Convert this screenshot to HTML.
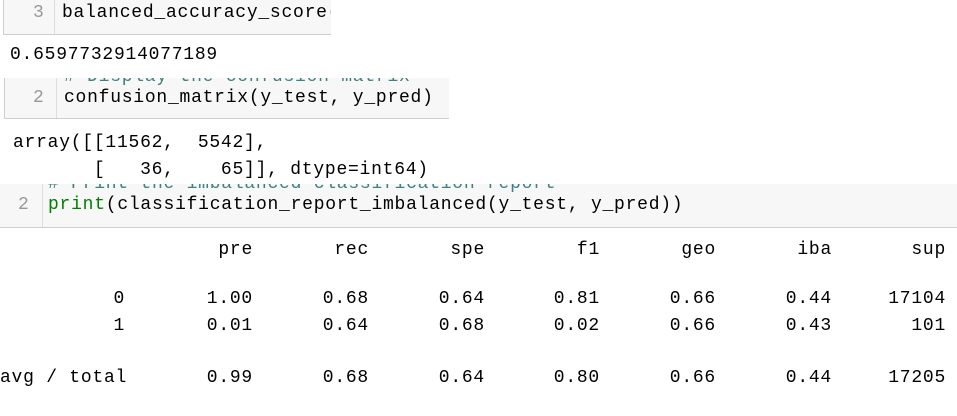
<!DOCTYPE html>
<html><head><meta charset="utf-8"><style>
body{margin:0;width:957px;height:416px;background:#fff;position:relative;overflow:hidden;font-family:"Liberation Mono",monospace;font-size:18px;letter-spacing:0.75px;color:#000}
.a{position:absolute;white-space:pre;line-height:20px}
.cell{position:absolute;background:#f7f7f7;border:1px solid #cfcfcf;border-top:none;overflow:hidden}
.gut{position:absolute;top:0;bottom:0;border-right:1px solid #dcdcdc}
.ln{color:#999}
.g{color:#008000}.c{color:#408080}
.r{position:absolute;text-align:right;width:100px;white-space:pre;line-height:20px}
</style></head><body>
<div class="cell" style="left:3px;top:0;width:327px;height:34px;border-right:none">
<div class="gut" style="left:0;width:50px"></div>
<span class="a ln" style="left:29px;top:3px">3</span>
<span class="a" style="left:58px;top:3px">balanced_accuracy_score(</span>
</div>
<div class="a" style="left:10px;top:45px">0.6597732914077189</div>

<div class="cell" style="left:4px;top:78px;width:444px;height:40px;border-right:none">
<div class="gut" style="left:0;width:51px"></div>
<span class="a c" style="left:59px;top:-11px"># Display the confusion matrix</span>
<span class="a ln" style="left:28px;top:10px">2</span>
<span class="a" style="left:59px;top:10px">confusion_matrix(y_test, y_pred)</span>
</div>
<div class="a" style="left:13px;top:130px;line-height:27px">array([[11562,  5542],
       [   36,    65]], dtype=int64)</div>

<div class="cell" style="left:0;top:184px;width:957px;height:43px;border-left:none;border-right:none">
<div class="gut" style="left:0;width:42px"></div>
<span class="a c" style="left:48px;top:-10px"># Print the imbalanced classification report</span>
<span class="a ln" style="left:18px;top:11px">2</span>
<span class="a" style="left:48px;top:11px"><span class="g">print</span>(classification_report_imbalanced(y_test, y_pred))</span>
</div>

<div>
<div class="r" style="left:153px;top:240px">pre</div><div class="r" style="left:269px;top:240px">rec</div><div class="r" style="left:385px;top:240px">spe</div><div class="r" style="left:500px;top:240px">f1</div><div class="r" style="left:616px;top:240px">geo</div><div class="r" style="left:732px;top:240px">iba</div><div class="r" style="left:846px;top:240px">sup</div>

<div class="r" style="left:25px;top:289px">0</div>
<div class="r" style="left:153px;top:289px">1.00</div><div class="r" style="left:269px;top:289px">0.68</div><div class="r" style="left:385px;top:289px">0.64</div><div class="r" style="left:500px;top:289px">0.81</div><div class="r" style="left:616px;top:289px">0.66</div><div class="r" style="left:732px;top:289px">0.44</div><div class="r" style="left:846px;top:289px">17104</div>

<div class="r" style="left:25px;top:316px">1</div>
<div class="r" style="left:153px;top:316px">0.01</div><div class="r" style="left:269px;top:316px">0.64</div><div class="r" style="left:385px;top:316px">0.68</div><div class="r" style="left:500px;top:316px">0.02</div><div class="r" style="left:616px;top:316px">0.66</div><div class="r" style="left:732px;top:316px">0.43</div><div class="r" style="left:846px;top:316px">101</div>

<div class="a" style="left:0;top:368px">avg / total</div>
<div class="r" style="left:153px;top:368px">0.99</div><div class="r" style="left:269px;top:368px">0.68</div><div class="r" style="left:385px;top:368px">0.64</div><div class="r" style="left:500px;top:368px">0.80</div><div class="r" style="left:616px;top:368px">0.66</div><div class="r" style="left:732px;top:368px">0.44</div><div class="r" style="left:846px;top:368px">17205</div>
</div>
</body></html>
